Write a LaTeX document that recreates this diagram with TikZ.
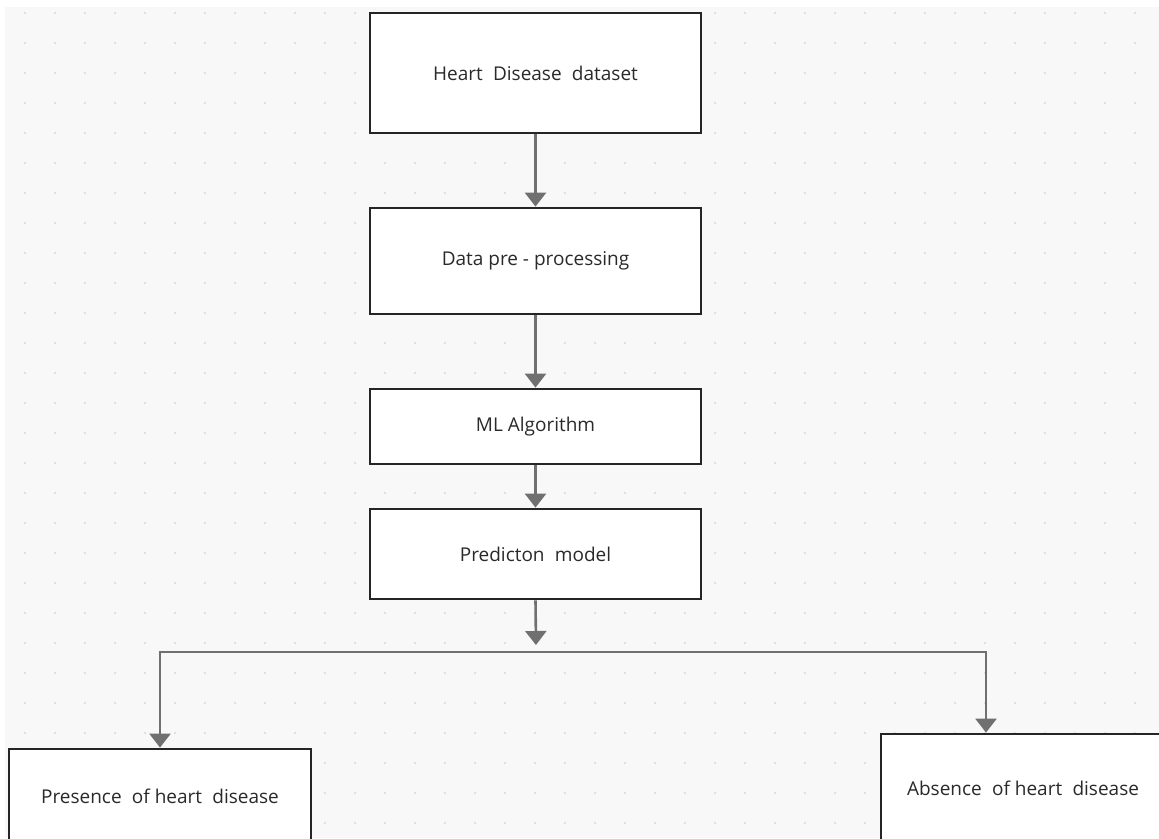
\documentclass[tikz,border=0pt]{standalone}
\usepackage{fontspec}
\setmainfont{Open Sans}
\usetikzlibrary{arrows.meta}
\definecolor{boxline}{HTML}{252525}
\definecolor{arrowgray}{HTML}{707070}
\definecolor{txt}{HTML}{2A2A2A}
\definecolor{bg}{HTML}{F8F8F8}
\definecolor{dotc}{HTML}{D8D8D8}
\newcommand{\wsp}{\hspace{0.28em}}
\begin{document}
\begin{tikzpicture}[x=1pt,y=-1pt,
  box/.style={draw=boxline, line width=2.8pt, fill=white, inner sep=0pt,
    font=\fontsize{19}{22}\selectfont, text=txt},
  flow/.style={draw=arrowgray, line width=2.6pt, -{Triangle[width=21pt,length=14pt]}},
  flowboth/.style={draw=arrowgray, line width=2.6pt, line join=miter,
    {Triangle[width=21pt,length=14pt]}-{Triangle[width=21pt,length=14pt]}},
]
\useasboundingbox (0,0) rectangle (1159,838);
\clip (0,0) rectangle (1159,838);
\fill[white] (0,0) rectangle (1159,838);
\fill[bg] (5,7) rectangle (1159,838);
\foreach \gx in {25,55,...,1159} {
  \foreach \gy in {13,43,...,838} {
    \fill[dotc] (\gx,\gy) circle[radius=1.1pt];
  }
}

\node[box, minimum width=331pt, minimum height=120pt] (heart) at (535.5,73) {Heart\wsp{} Disease\wsp{} dataset};
\node[box, minimum width=331pt, minimum height=106pt] (data) at (535.5,261) {Data pre - processing};
\node[box, minimum width=331pt, minimum height=75pt] (ml) at (535.5,426.5) {ML Algorithm};
\node[box, minimum width=331pt, minimum height=90pt] (pred) at (535.5,554) {Predicton\wsp{} model};
\node[box, minimum width=302pt, minimum height=94pt] (presence) at (160,796) {Presence\wsp{} of heart\wsp{} disease};
\node[box, minimum width=284pt, minimum height=108pt] (absence) at (1023,788) {Absence\wsp{} of heart\wsp{} disease};

\coordinate (junc) at (536,645);
\coordinate (hl) at (160,652);
\coordinate (hr) at (986,652);

\draw[flow] (heart.south) -- (data.north);
\draw[flow] (data.south) -- (ml.north);
\draw[flow] (ml.south) -- (pred.north);
\draw[flow] (pred.south) -- (junc);
\draw[flowboth] (hl |- presence.north) -- (hl) -- (hr) -- (hr |- absence.north);
\end{tikzpicture}
\end{document}
